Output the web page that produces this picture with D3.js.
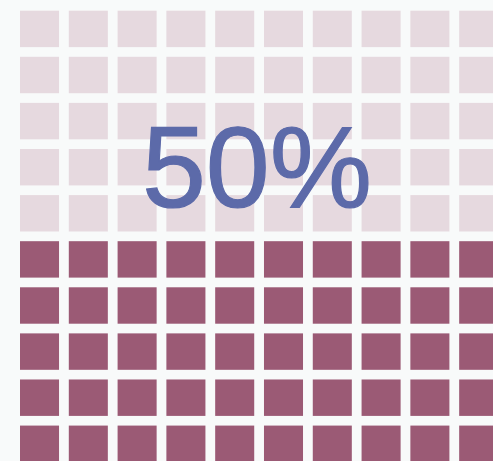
<!DOCTYPE html>
<html>
<head>
<meta charset="utf-8">
<script src="https://cdn.jsdelivr.net/npm/d3@7"></script>
<style>
  html, body { margin: 0; padding: 0; background: #f8fafa; overflow: hidden; }
  svg { display: block; }
</style>
</head>
<body>
<div id="chart"></div>
<script>
const percentValue = 50;
const gridColumns = d3.range(10);
const gridRows = d3.range(10);
const labelText = "50%";

const width = 493, height = 461;

const svg = d3.select("#chart")
  .append("svg")
  .attr("width", width)
  .attr("height", height);

svg.append("rect")
  .attr("width", width)
  .attr("height", height)
  .attr("fill", "#f8fafa");

const x = d3.scaleBand()
  .domain(gridColumns)
  .range([20, 498.2])
  .paddingInner(0.2);

const y = d3.scaleBand()
  .domain(gridRows)
  .range([10.7, 462])
  .paddingInner(0.21);

// one cell per percent, filled from the bottom row up
const cells = [];
gridRows.forEach(r => {
  gridColumns.forEach(c => {
    const idx = (gridRows.length - 1 - r) * gridColumns.length + c;
    cells.push({ row: r, col: c, filled: idx < percentValue });
  });
});

svg.selectAll("rect.cell")
  .data(cells)
  .enter().append("rect")
  .attr("class", "cell")
  .attr("x", d => x(d.col))
  .attr("y", d => y(d.row))
  .attr("width", x.bandwidth())
  .attr("height", y.bandwidth())
  .attr("fill", d => d.filled ? "#9b5a75" : "#e6d9df");

svg.append("text")
  .attr("x", 257)
  .attr("y", 207)
  .attr("text-anchor", "middle")
  .attr("font-family", "Liberation Sans, Arial, sans-serif")
  .attr("font-size", 115)
  .attr("fill", "#5c6aa9")
  .attr("stroke", "#5c6aa9")
  .attr("stroke-width", 1.2)
  .text(labelText);
</script>
</body>
</html>
